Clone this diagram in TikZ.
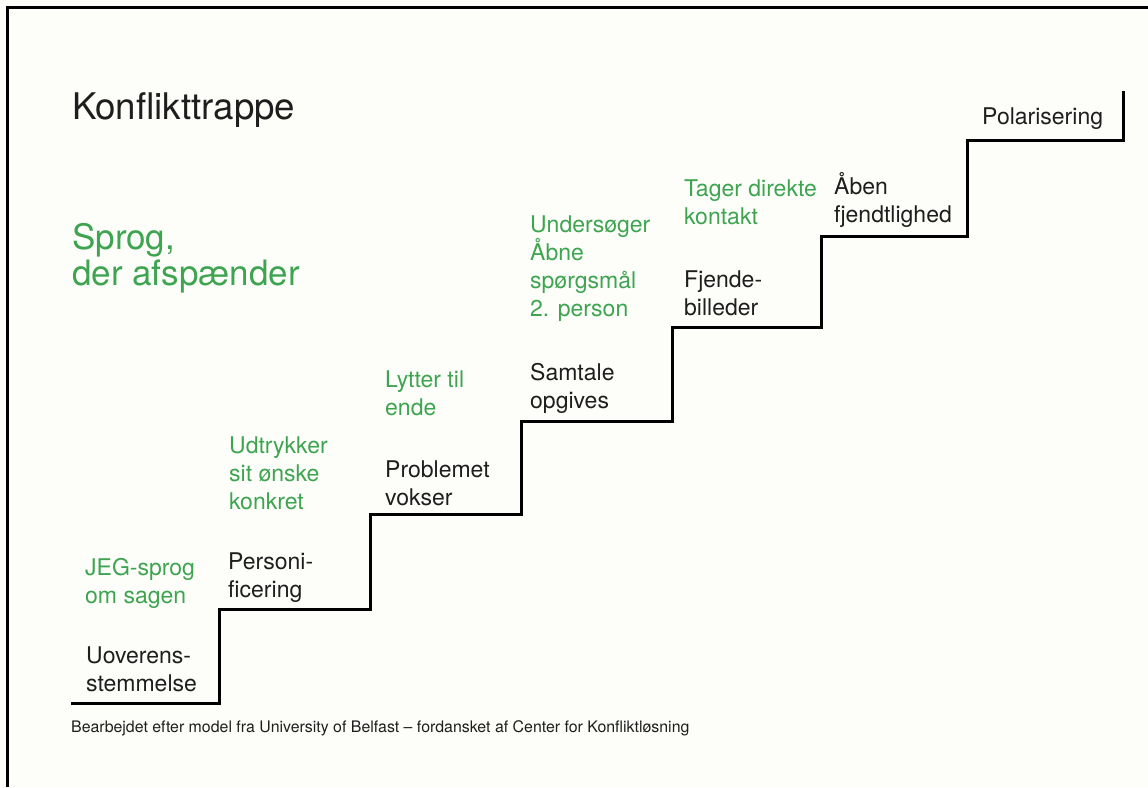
\documentclass[tikz,border=0pt]{standalone}
\usepackage{fontspec}
\setmainfont{TeX Gyre Heros}
\definecolor{stepgreen}{RGB}{62,164,80}
\definecolor{ink}{RGB}{30,30,30}
\definecolor{paper}{RGB}{253,254,250}
\begin{document}
\begin{tikzpicture}[x=1pt,y=-1pt,
  lbl/.style={anchor=base west, inner sep=0pt, align=left, text=ink,
              font=\fontsize{23}{27.7}\selectfont},
  glbl/.style={lbl, text=stepgreen},
  bigtxt/.style={anchor=base west, inner sep=0pt, align=left,
              font=\fontsize{35}{36}\selectfont},
  stair/.style={line width=3pt, line join=miter, draw=black},
  frame/.style={line width=3pt, draw=black}]
\fill[paper] (0,0) rectangle (1148,787);
\useasboundingbox (0,0) rectangle (1148,787);
\draw[frame] (7.5,787) -- (7.5,7.5) -- (1148,7.5);
\draw[stair] (71,703) -| (219,609) -| (370,514) -| (521,421) -| (672,327)
  -| (821,236) -| (967,140) -| (1123,91);
% multi-line nodes: the base anchor is the baseline of the last line
\node[bigtxt, text=ink, font=\fontsize{36.7}{38}\selectfont] (title) at (72,119) {Konflikttrappe};
\node[bigtxt, text=stepgreen] (sprog) at (72,285) {Sprog,\\der afspænder};
\node[glbl] (jeg) at (85,603) {JEG-sprog\\om sagen};
\node[lbl] (uover) at (86,691) {Uoverens-\\stemmelse};
\node[glbl] (udtryk) at (229,509) {Udtrykker\\sit ønske\\konkret};
\node[lbl] (person) at (228,597) {Personi-\\ficering};
\node[glbl] (lytter) at (385,415) {Lytter til\\ende};
\node[lbl] (problem) at (385,505) {Problemet\\vokser};
\node[glbl] (under) at (530,316) {Undersøger\\Åbne\\spørgsmål\\2. person};
\node[lbl] (samtale) at (530,408) {Samtale\\opgives};
\node[glbl] (tager) at (684,224) {Tager direkte\\kontakt};
\node[lbl] (fjende) at (684,315) {Fjende-\\billeder};
\node[lbl] (aaben) at (834,222) {Åben\\fjendtlighed};
\node[lbl] (polar) at (982,124) {Polarisering};
\node[anchor=base west, inner sep=0pt, text=ink, font=\fontsize{15.9}{17}\selectfont] (foot) at (71,732)
  {Bearbejdet efter model fra University of Belfast – fordansket af Center for Konfliktløsning};
\end{tikzpicture}
\end{document}
